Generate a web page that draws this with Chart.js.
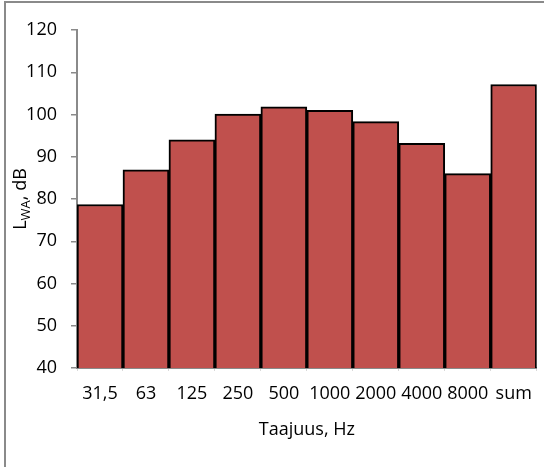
<!DOCTYPE html>
<html>
<head>
<meta charset="utf-8">
<script src="https://cdn.jsdelivr.net/npm/chart.js@4/dist/chart.umd.min.js"></script>
<style>
  html, body { margin: 0; padding: 0; background: #fff; }
  #wrap { width: 544px; height: 467px; }
</style>
</head>
<body>
<div id="wrap"><canvas id="c" width="544" height="467"></canvas></div>
<script>
// Octave-band sound power levels (A-weighted) and the total
const categories = ['31,5', '63', '125', '250', '500', '1000', '2000', '4000', '8000', 'sum'];
const levels = [78.7, 86.9, 94.0, 100.1, 101.8, 101.0, 98.3, 93.2, 86.0, 107.1];
const yMin = 40;
const yMax = 120;
const yStep = 10;
const xTitle = 'Taajuus, Hz';
const yTitleMain = 'L';
const yTitleSub = 'WA';
const yTitleTail = ', dB';

const FONT = '"Open Sans", "Liberation Sans", Arial, sans-serif';

// Frame around the whole chart plus white background
const framePlugin = {
  id: 'frame',
  beforeDraw(chart) {
    const ctx = chart.ctx;
    ctx.save();
    ctx.fillStyle = '#ffffff';
    ctx.fillRect(0, 0, chart.width, chart.height);
    ctx.strokeStyle = '#8a8a8a';
    ctx.lineWidth = 2;
    ctx.strokeRect(5, 2, chart.width + 20, chart.height + 20);
    ctx.restore();
  }
};

// Rotated y-axis title with a subscript
const yTitlePlugin = {
  id: 'yTitle',
  afterDraw(chart) {
    const ctx = chart.ctx;
    const mainFont = '18px ' + FONT;
    const subFont = '13px ' + FONT;
    ctx.save();
    ctx.fillStyle = '#000';
    ctx.textBaseline = 'alphabetic';
    ctx.font = mainFont;
    const wL = ctx.measureText(yTitleMain).width;
    const wTail = ctx.measureText(yTitleTail).width;
    ctx.font = subFont;
    const wSub = ctx.measureText(yTitleSub).width;
    const total = wL + wSub + wTail;
    const cy = 199;
    ctx.translate(26, cy);
    ctx.rotate(-Math.PI / 2);
    let x = -total / 2;
    ctx.font = mainFont;
    ctx.fillText(yTitleMain, x, 0);
    x += wL;
    ctx.font = subFont;
    ctx.fillText(yTitleSub, x, 4);
    x += wSub;
    ctx.font = mainFont;
    ctx.fillText(yTitleTail, x, 0);
    ctx.restore();
  }
};

new Chart(document.getElementById('c'), {
  type: 'bar',
  data: {
    labels: categories,
    datasets: [{
      data: levels,
      backgroundColor: '#C0504D',
      borderColor: '#000000',
      borderWidth: 2,
      borderSkipped: 'bottom',
      categoryPercentage: 1.0,
      barPercentage: 1.0
    }]
  },
  options: {
    responsive: false,
    animation: false,
    devicePixelRatio: 1,
    layout: { padding: { top: 30, right: 3, left: 0, bottom: 0 } },
    plugins: {
      legend: { display: false },
      tooltip: { enabled: false }
    },
    scales: {
      x: {
        offset: true,
        grid: {
          display: true,
          offset: true,
          drawOnChartArea: false,
          drawTicks: true,
          tickLength: 3,
          color: '#d9d9d9',
          lineWidth: 1
        },
        border: { display: true, color: '#8a8a8a', width: 2 },
        ticks: {
          color: '#000',
          font: { family: FONT, size: 18 },
          padding: 12,
          maxRotation: 0,
          autoSkip: false
        },
        title: {
          display: true,
          text: xTitle,
          color: '#000',
          font: { family: FONT, size: 18 },
          padding: { top: 0, bottom: 26 }
        },
        afterFit(scale) { scale.height = 99; }
      },
      y: {
        min: yMin,
        max: yMax,
        ticks: {
          stepSize: yStep,
          color: '#000',
          font: { family: FONT, size: 18 },
          padding: 14
        },
        grid: {
          display: true,
          drawOnChartArea: false,
          drawTicks: true,
          tickLength: 6,
          color: '#8a8a8a',
          lineWidth: 1.5
        },
        border: { display: true, color: '#8a8a8a', width: 2 },
        afterFit(scale) { scale.width = 77; }
      }
    }
  },
  plugins: [framePlugin, yTitlePlugin]
});
</script>
</body>
</html>
